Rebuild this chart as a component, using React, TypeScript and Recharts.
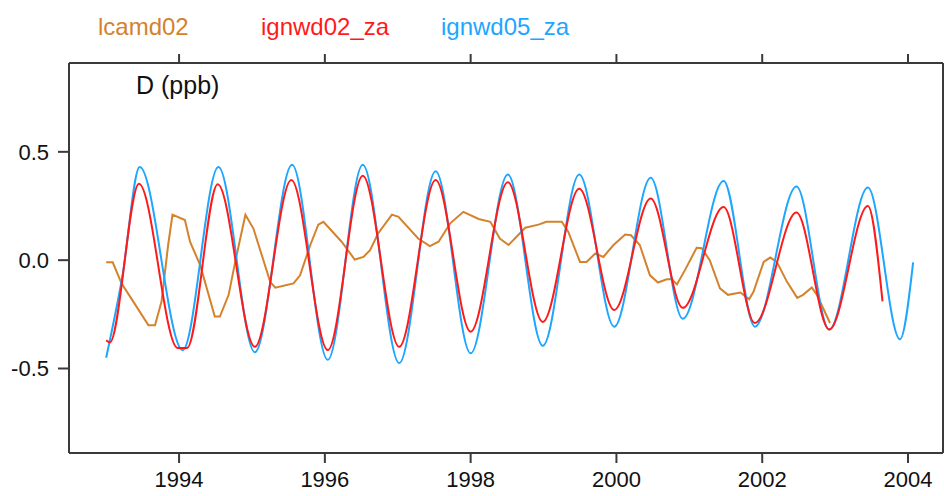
import React from "react";
import { LineChart, Line, XAxis, YAxis } from "recharts";

// lcamd02 (orange)
const lcamdYears = [
  1993.0, 1993.09, 1993.21, 1993.37, 1993.58, 1993.67, 1993.76, 1993.85, 1993.91,
  1994.08, 1994.15, 1994.29, 1994.49, 1994.56, 1994.68, 1994.77, 1994.91, 1995.02,
  1995.25, 1995.32, 1995.57, 1995.66, 1995.8, 1995.91, 1995.98, 1996.23, 1996.41,
  1996.53, 1996.62, 1996.73, 1996.92, 1997.01, 1997.28, 1997.44, 1997.56, 1997.72,
  1997.9, 1998.11, 1998.27, 1998.4, 1998.52, 1998.65, 1998.75, 1998.93, 1999.04,
  1999.25, 1999.34, 1999.5, 1999.59, 1999.71, 1999.82, 1999.96, 2000.12, 2000.2,
  2000.32, 2000.46, 2000.57, 2000.69, 2000.76, 2000.83, 2000.94, 2001.1, 2001.17,
  2001.28, 2001.42, 2001.53, 2001.7, 2001.82, 2001.88, 2002.02, 2002.11, 2002.2,
  2002.34, 2002.48, 2002.56, 2002.68, 2002.75, 2002.93,
];
const lcamdValues = [
  -0.01, -0.01, -0.107, -0.19, -0.3, -0.3, -0.19, 0.07, 0.21,
  0.185, 0.085, -0.023, -0.26, -0.26, -0.16, -0.008, 0.21, 0.146,
  -0.1, -0.127, -0.107, -0.07, 0.07, 0.164, 0.177, 0.085, 0.003,
  0.015, 0.046, 0.123, 0.21, 0.2, 0.1, 0.065, 0.085, 0.17,
  0.223, 0.19, 0.177, 0.1, 0.07, 0.115, 0.15, 0.164, 0.177,
  0.177, 0.13, -0.008, -0.008, 0.031, 0.015, 0.07, 0.118, 0.115,
  0.07, -0.07, -0.103, -0.088, -0.088, -0.112, -0.046, 0.057, 0.055,
  0.0, -0.13, -0.16, -0.149, -0.18, -0.146, -0.008, 0.012, -0.008,
  -0.1, -0.174, -0.16, -0.126, -0.16, -0.29,
];

// ignwd02_za (red): peaks and troughs
const ignwd02Years = [
  1993.0, 1993.05, 1993.45, 1993.98, 1994.11, 1994.53, 1995.04, 1995.54, 1996.04,
  1996.52, 1997.02, 1997.52, 1998.0, 1998.51, 1998.99, 1999.49, 1999.97, 2000.47,
  2000.91, 2001.47, 2001.9, 2002.47, 2002.92, 2003.45, 2003.65,
];
const ignwd02Values = [
  -0.37, -0.38, 0.353, -0.405, -0.405, 0.35, -0.4, 0.37, -0.415,
  0.39, -0.4, 0.37, -0.33, 0.36, -0.285, 0.33, -0.23, 0.285,
  -0.22, 0.245, -0.29, 0.22, -0.32, 0.25, -0.19,
];

// ignwd05_za (blue): peaks and troughs
const ignwd05Years = [
  1993.0, 1993.22, 1993.46, 1994.05, 1994.54, 1995.04, 1995.55, 1996.04, 1996.52,
  1997.02, 1997.52, 1998.0, 1998.51, 1998.99, 1999.49, 1999.97, 2000.47, 2000.91,
  2001.47, 2001.9, 2002.47, 2002.92, 2003.45, 2003.89, 2004.07,
];
const ignwd05Values = [
  -0.45, -0.08, 0.43, -0.415, 0.43, -0.425, 0.44, -0.46, 0.44,
  -0.475, 0.41, -0.43, 0.395, -0.395, 0.395, -0.307, 0.38, -0.27,
  0.365, -0.307, 0.34, -0.32, 0.335, -0.365, -0.01,
];

const yearTicks = [1994, 1996, 1998, 2000, 2002, 2004];
const valueTicks = [-0.5, 0, 0.5];

const lcamdData = lcamdYears.map((t, i) => ({ t, v: lcamdValues[i] }));
const ignwd02Data = ignwd02Years.map((t, i) => ({ t, v: ignwd02Values[i] }));
const ignwd05Data = ignwd05Years.map((t, i) => ({ t, v: ignwd05Values[i] }));

const X_DOMAIN = [1992.49, 2004.48];
const ORANGE = "#d4822c";
const RED = "#ff1a1a";
const BLUE = "#1ea6ff";
const FRAME = "#3a3a3a";
const FONT = "'Liberation Sans', Arial, sans-serif";

export default function App() {
  return (
    <div style={{ position: "relative", width: 944, height: 496, fontFamily: FONT }}>
      <style>{`body{margin:0}`}</style>
      <LineChart
        width={944}
        height={496}
        margin={{ top: 33, right: 0, bottom: 0, left: 0 }}
      >
        <XAxis
          dataKey="t"
          type="number"
          domain={X_DOMAIN}
          allowDataOverflow
          ticks={yearTicks}
          height={43}
          tickSize={10}
          tickMargin={8}
          stroke={FRAME}
          strokeWidth={2}
          tick={{ fill: "#111", fontSize: 22, fontFamily: FONT }}
        />
        {/* mirrored top axis: tick marks only */}
        <XAxis
          xAxisId="top"
          orientation="top"
          dataKey="t"
          type="number"
          domain={X_DOMAIN}
          allowDataOverflow
          ticks={yearTicks}
          height={30}
          tickSize={9}
          tickFormatter={() => ""}
          stroke={FRAME}
          strokeWidth={2}
        />
        <YAxis
          type="number"
          domain={[-0.89, 0.91]}
          allowDataOverflow
          ticks={valueTicks}
          width={69}
          tickSize={11}
          tickMargin={9}
          stroke={FRAME}
          strokeWidth={2}
          tickFormatter={(v: number) => v.toFixed(1)}
          tick={{ fill: "#111", fontSize: 22, fontFamily: FONT }}
        />
        <YAxis
          yAxisId="right"
          orientation="right"
          type="number"
          domain={[0, 1]}
          width={1}
          tick={false}
          tickLine={false}
          stroke={FRAME}
          strokeWidth={2}
        />
        <Line
          xAxisId="top"
          data={lcamdData}
          dataKey="v"
          type="linear"
          stroke={ORANGE}
          strokeWidth={2}
          dot={false}
          isAnimationActive={false}
        />
        <Line
          data={ignwd05Data}
          dataKey="v"
          type="monotone"
          stroke={BLUE}
          strokeWidth={2}
          dot={false}
          isAnimationActive={false}
        />
        <Line
          data={ignwd02Data}
          dataKey="v"
          type="monotone"
          stroke={RED}
          strokeWidth={2}
          dot={false}
          isAnimationActive={false}
        />
      </LineChart>
      <svg
        width={944}
        height={120}
        style={{ position: "absolute", left: 0, top: 0, pointerEvents: "none" }}
      >
        <text x={98} y={35} fontSize={24} fill={ORANGE} fontFamily={FONT}>
          lcamd02
        </text>
        <text x={261} y={35} fontSize={24} fill={RED} fontFamily={FONT}>
          ignwd02_za
        </text>
        <text x={441} y={35} fontSize={24} fill={BLUE} fontFamily={FONT}>
          ignwd05_za
        </text>
        <text x={136} y={94} fontSize={25} fill="#111" fontFamily={FONT}>
          D (ppb)
        </text>
      </svg>
    </div>
  );
}
